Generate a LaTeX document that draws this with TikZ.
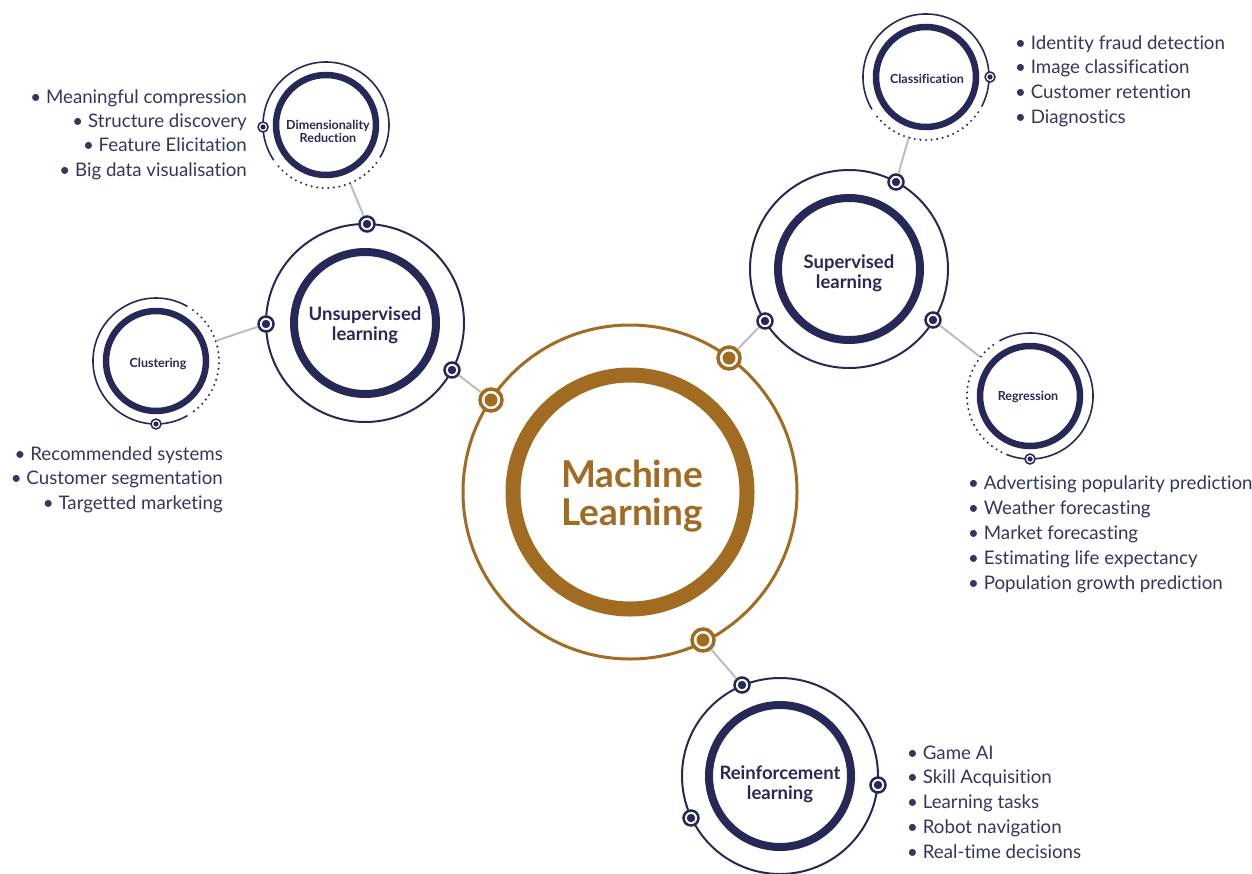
\documentclass[tikz,border=0pt]{standalone}
\usepackage{fontspec}
\setmainfont{Lato}[Ligatures=NoCommon]
\definecolor{navy}{HTML}{262957}
\definecolor{gold}{HTML}{A26B22}
\definecolor{txt}{HTML}{33365F}
\definecolor{linkgray}{HTML}{BDBDBD}
\begin{document}
\begin{tikzpicture}[x=1pt,y=-1pt,
  bigring/.style={circle, draw=navy, line width=8pt, minimum size=142pt, inner sep=0pt},
  halo/.style={circle, draw=navy, line width=2pt, inner sep=0pt, outer sep=0pt},
  smallring/.style={circle, draw=navy, line width=6.5pt, minimum size=100pt, inner sep=0pt},
  zone/.style={circle, inner sep=0pt, outer sep=0pt, minimum size=128pt},
  bigtext/.style={align=center, text=navy, inner sep=0pt, font=\bfseries\fontsize{18.5}{20}\selectfont},
  smalltext/.style={align=center, text=navy, inner sep=0pt, font=\bfseries\fontsize{12.5}{13}\selectfont},
  ndot/.style={circle, draw=navy, line width=2.5pt, fill=white, minimum size=15pt, inner sep=0pt,
    path picture={\fill[navy] (path picture bounding box.center) circle[radius=4.2pt];}},
  sdot/.style={circle, draw=navy, line width=1.5pt, fill=white, minimum size=10pt, inner sep=0pt,
    path picture={\fill[navy] (path picture bounding box.center) circle[radius=2.6pt];}},
  gdot/.style={circle, draw=gold, line width=3.5pt, fill=white, minimum size=22pt, inner sep=0pt,
    path picture={\fill[gold] (path picture bounding box.center) circle[radius=6.5pt];}},
  link/.style={draw=linkgray, line width=2pt},
  thinarc/.style={draw=navy, line width=1.6pt},
  dotarc/.style={draw=navy, line width=2.3pt, line cap=round, dash pattern=on 0pt off 5.6pt},
  itemr/.style={anchor=base east, text=txt, inner sep=0pt, font=\fontsize{18.7}{24}\selectfont},
  iteml/.style={anchor=base west, text=txt, inner sep=0pt, font=\fontsize{18.7}{24}\selectfont}
]
\useasboundingbox (0,0) rectangle (1252,873);

% ---------- central circle ----------
\node[circle, draw=gold, line width=3pt, minimum size=334pt, inner sep=0pt, outer sep=0pt] (mlo) at (630,492) {};
\node[circle, draw=gold, line width=15pt, minimum size=234pt, inner sep=0pt] (ml) at (630,492) {};
\node[align=center, text=gold, inner sep=0pt, font=\bfseries\fontsize{37}{38}\selectfont] (mlt) at (632,496) {Machine\\Learning};

% ---------- main rings ----------
\node[halo, minimum size=198pt] (ulo) at (365,323) {};
\node[bigring] (ul) at (365,323) {};
\node[bigtext] (ult) at (365,325) {Unsupervised\\learning};

\node[halo, minimum size=198pt] (slo) at (849,269) {};
\node[bigring] (sl) at (849,269) {};
\node[bigtext] (slt) at (849,273) {Supervised\\learning};

\node[halo, minimum size=196pt] (rlo) at (780,776) {};
\node[bigring] (rl) at (780,776) {};
\node[bigtext] (rlt) at (780,784) {Reinforcement\\learning};

% ---------- small rings ----------
\node[smallring] (dr) at (326,125) {};
\node[smalltext] (drt) at (328,131) {Dimensionality\\Reduction};
\node[zone] (drz) at (326,125) {};
\draw[thinarc] ([shift={(146:63)}]dr.center) arc[start angle=146, end angle=391, radius=63];
\draw[dotarc] ([shift={(37:63)}]dr.center) arc[start angle=37, end angle=141, radius=63];

\node[smallring] (cf) at (926,77) {};
\node[smalltext] (cft) at (927,79) {Classification};
\node[zone] (cfz) at (926,77) {};
\draw[thinarc] ([shift={(149:63)}]cf.center) arc[start angle=149, end angle=388, radius=63];
\draw[dotarc] ([shift={(34:63)}]cf.center) arc[start angle=34, end angle=144, radius=63];

\node[smallring] (cl) at (156,361) {};
\node[smalltext] (clt) at (158,364) {Clustering};
\node[zone] (clz) at (156,361) {};
\draw[thinarc] ([shift={(60:63)}]cl.center) arc[start angle=60, end angle=300, radius=63];
\draw[dotarc] ([shift={(-54:63)}]cl.center) arc[start angle=-54, end angle=54, radius=63];

\node[smallring] (rg) at (1030,396) {};
\node[smalltext] (rgt) at (1028,397) {Regression};
\node[zone] (rgz) at (1030,396) {};
\draw[thinarc] ([shift={(241:63)}]rg.center) arc[start angle=241, end angle=472, radius=63];
\draw[dotarc] ([shift={(117:63)}]rg.center) arc[start angle=117, end angle=236, radius=63];

% ---------- dots ----------
\node[gdot] (g1) at (491,400) {};
\node[gdot] (g2) at (729,358) {};
\node[gdot] (g3) at (703,640) {};

\node[ndot] (u1) at (266,324) {};
\node[ndot] (u2) at (367,224) {};
\node[ndot] (u3) at (452,370) {};

\node[ndot] (s1) at (896,182) {};
\node[ndot] (s2) at (765,321) {};
\node[ndot] (s3) at (933,320) {};

\node[ndot] (r1) at (742,685) {};
\node[ndot] (r2) at (878,785) {};
\node[ndot] (r3) at (691,818) {};

\node[sdot] (drd) at (263,127) {};
\node[sdot] (cfd) at (990,77) {};
\node[sdot] (cld) at (156,424) {};
\node[sdot] (rgd) at (1030,459) {};

% ---------- connectors ----------
\draw[link] (u3) -- (g1);
\draw[link] (s2) -- (g2);
\draw[link] (r1) -- (g3);
\draw[link] (drz) -- (u2);
\draw[link] (cfz) -- (s1);
\draw[link] (clz) -- (u1);
\draw[link] (rgz) -- (s3);

% ---------- lists ----------
\foreach \t [count=\i] in {Meaningful compression, Structure discovery, Feature Elicitation, Big data visualisation}
  \node[itemr] (drl\i) at (247,{103+24.4*(\i-1)}) {\textbullet\ \t};
\foreach \t [count=\i] in {Identity fraud detection, Image classification, Customer retention, Diagnostics}
  \node[iteml] (cfl\i) at (1015,{49+24.7*(\i-1)}) {\textbullet\ \t};
\foreach \t [count=\i] in {Recommended systems, Customer segmentation, Targetted marketing}
  \node[itemr] (cll\i) at (223,{460+24.5*(\i-1)}) {\textbullet\ \t};
\foreach \t [count=\i] in {Advertising popularity prediction, Weather forecasting, Market forecasting, Estimating life expectancy, Population growth prediction}
  \node[iteml] (rgl\i) at (968,{489+25*(\i-1)}) {\textbullet\ \t};
\foreach \t [count=\i] in {Game AI, Skill Acquisition, Learning tasks, Robot navigation, Real-time decisions}
  \node[iteml] (rll\i) at (907,{759+24.75*(\i-1)}) {\textbullet\ \t};
\end{tikzpicture}
\end{document}
